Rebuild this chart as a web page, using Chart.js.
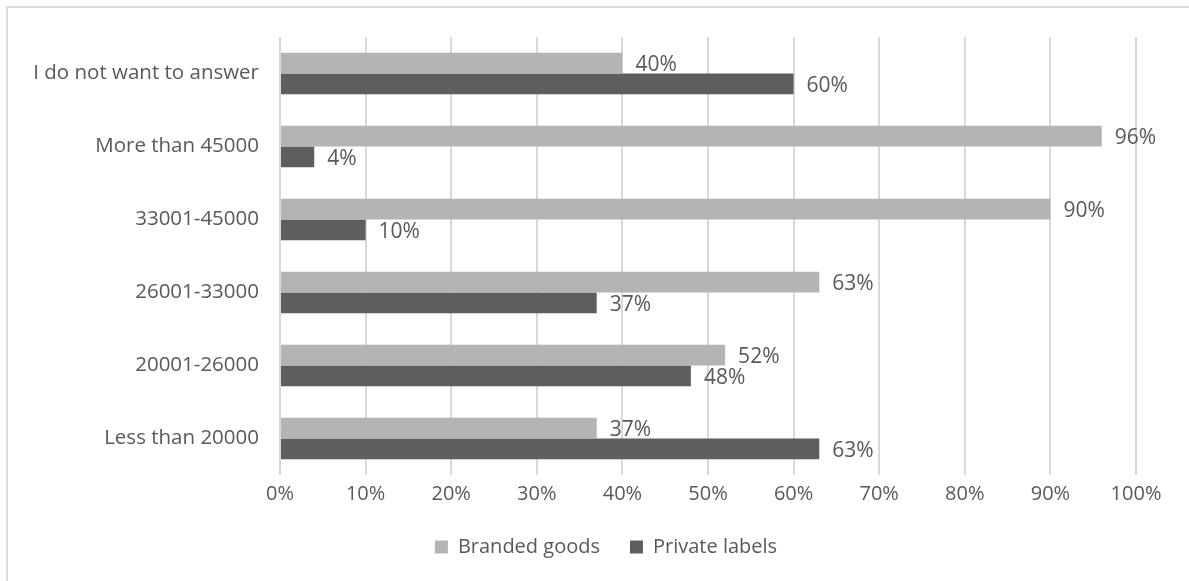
<!DOCTYPE html>
<html>
<head>
<meta charset="utf-8">
<script src="https://cdn.jsdelivr.net/npm/chart.js@4/dist/chart.umd.min.js"></script>
<style>
  html, body { margin: 0; padding: 0; background: #fff; }
  #wrap { position: relative; width: 1189px; height: 581px; overflow: hidden; }
  #frame { position: absolute; left: 6px; top: 6px; width: 1300px; height: 700px; border-left: 2px solid #dcdcdc; border-top: 2px solid #dcdcdc; }
  #box { position: absolute; left: 0; top: 0; width: 1189px; height: 581px; }
</style>
</head>
<body>
<div id="wrap">
  <div id="frame"></div>
  <div id="box"><canvas id="incomeChart"></canvas></div>
</div>
<script>
const categories = ['I do not want to answer', 'More than 45000', '33001-45000', '26001-33000', '20001-26000', 'Less than 20000'];
const brandedGoods = [40, 96, 90, 63, 52, 37];
const privateLabels = [60, 4, 10, 37, 48, 63];
const tickValues = [0, 10, 20, 30, 40, 50, 60, 70, 80, 90, 100];

const textColor = '#595959';
const fontFamily = '"Open Sans", "Noto Sans", sans-serif';

// draws the "40%" style labels just past the end of each bar
const valueLabels = {
    id: 'valueLabels',
    afterDatasetsDraw(chart) {
        const ctx = chart.ctx;
        ctx.save();
        ctx.font = '21px ' + fontFamily;
        ctx.fillStyle = textColor;
        ctx.textBaseline = 'middle';
        ctx.textAlign = 'left';
        chart.data.datasets.forEach((ds, i) => {
            chart.getDatasetMeta(i).data.forEach((bar, j) => {
                ctx.fillText(ds.data[j] + '%', bar.x + 13, bar.y + 2);
            });
        });
        ctx.restore();
    }
};

// legend in the original sits a bit right of the plot centre
const legendShift = {
    id: 'legendShift',
    afterLayout(chart) {
        chart.legend.left += 33;
        chart.legend.right += 33;
    }
};

const incomeChart = new Chart(document.getElementById('incomeChart'), {
    type: 'bar',
    data: {
        labels: categories,
        datasets: [
            {
                label: 'Branded goods',
                data: brandedGoods,
                backgroundColor: '#b4b4b4'
            },
            {
                label: 'Private labels',
                data: privateLabels,
                backgroundColor: '#5e5e5e'
            }
        ]
    },
    options: {
        indexAxis: 'y',
        responsive: true,
        maintainAspectRatio: false,
        animation: false,
        categoryPercentage: 0.57,
        barPercentage: 1.0,
        layout: {
            padding: { left: 10, right: 53, top: 37, bottom: 14 }
        },
        plugins: {
            tooltip: { enabled: false },
            legend: {
                position: 'bottom',
                labels: {
                    color: textColor,
                    font: { family: fontFamily, size: 20 },
                    boxWidth: 13,
                    boxHeight: 13,
                    padding: 30
                }
            }
        },
        scales: {
            x: {
                min: 0,
                max: 100,
                afterBuildTicks: scale => { scale.ticks = tickValues.map(v => ({ value: v })); },
                afterFit: scale => { scale.height = 32; },
                grid: { color: '#d9d9d9', lineWidth: 2, drawTicks: false },
                border: { display: false },
                ticks: {
                    color: textColor,
                    font: { family: fontFamily, size: 20 },
                    padding: 7,
                    maxRotation: 0,
                    callback: v => v + '%'
                }
            },
            y: {
                afterFit: scale => { scale.width = 270; },
                grid: { display: false, drawTicks: false },
                border: { display: false },
                ticks: {
                    color: textColor,
                    font: { family: fontFamily, size: 20.5 },
                    padding: 21
                }
            }
        }
    },
    plugins: [valueLabels, legendShift]
});
</script>
</body>
</html>
